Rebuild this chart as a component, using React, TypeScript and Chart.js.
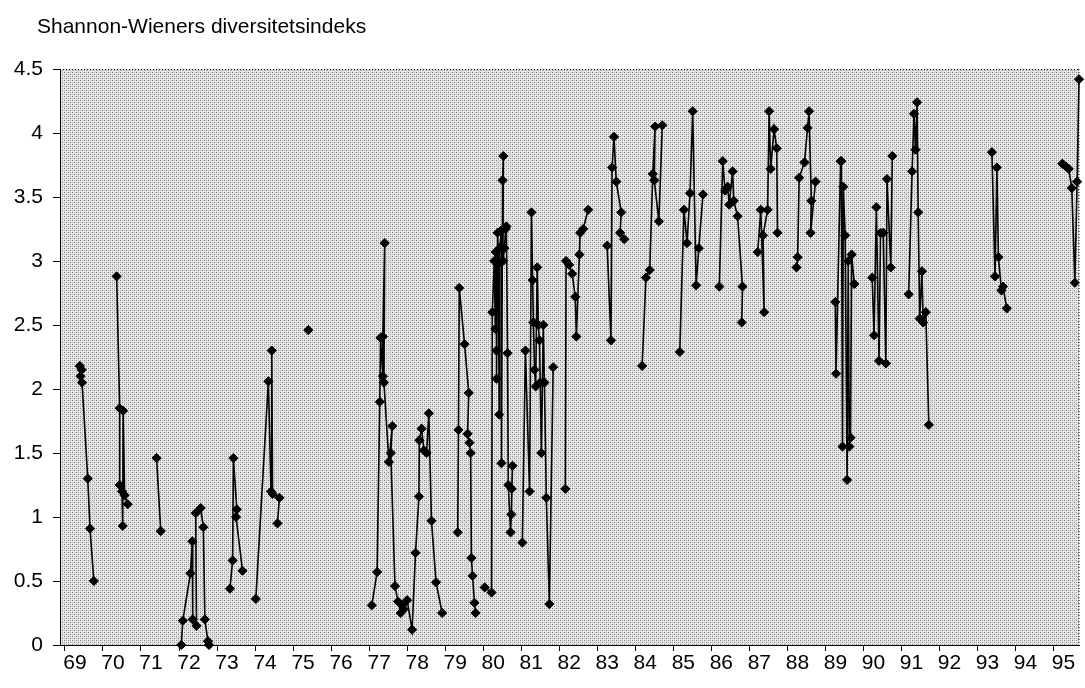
import React, { useEffect, useRef } from 'react';
import { Chart, registerables } from 'chart.js';

Chart.register(...registerables);

const TITLE = 'Shannon-Wieners diversitetsindeks';
const yearTicks = [69, 70, 71, 72, 73, 74, 75, 76, 77, 78, 79, 80, 81, 82, 83, 84, 85, 86, 87, 88, 89, 90, 91, 92, 93, 94, 95];
const valueTicks = [0, 0.5, 1, 1.5, 2, 2.5, 3, 3.5, 4, 4.5];

// [decimal year, index value] – each list is one connected run of samples
const g69 = [[69.39, 2.18], [69.44, 2.15], [69.41, 2.1], [69.45, 2.05], [69.6, 1.3], [69.66, 0.91], [69.76, 0.5]];
const g70 = [[70.36, 2.88], [70.44, 1.85], [70.44, 1.25], [70.5, 1.2], [70.52, 0.93], [70.53, 1.83], [70.57, 1.17], [70.65, 1.1]];
const g71 = [[71.41, 1.46], [71.52, 0.89]];
const g72 = [[72.06, 0.0], [72.1, 0.19], [72.3, 0.56], [72.35, 0.81], [72.36, 0.2], [72.46, 0.15], [72.44, 1.03], [72.57, 1.07], [72.64, 0.92], [72.68, 0.2], [72.76, 0.03], [72.79, 0.0]];
const g73 = [[73.34, 0.44], [73.41, 0.66], [73.43, 1.46], [73.52, 1.06], [73.5, 1.0], [73.67, 0.58]];
const g74 = [[74.02, 0.36], [74.35, 2.06], [74.42, 1.2], [74.44, 2.3], [74.46, 1.18], [74.64, 1.15], [74.59, 0.95]];
const g75 = [[75.4, 2.46]];
const g77 = [[77.07, 0.31], [77.21, 0.57], [77.28, 1.9], [77.3, 2.4], [77.36, 2.1], [77.36, 2.41], [77.41, 3.14], [77.39, 2.05], [77.52, 1.43], [77.61, 1.71], [77.57, 1.5], [77.68, 0.46], [77.76, 0.34], [77.83, 0.25], [77.87, 0.31], [77.91, 0.28], [78.0, 0.35], [78.13, 0.12], [78.22, 0.72], [78.31, 1.16], [78.32, 1.6], [78.38, 1.69], [78.44, 1.52], [78.51, 1.5], [78.57, 1.81], [78.64, 0.97], [78.76, 0.49], [78.92, 0.25]];
const g79 = [[79.33, 0.88], [79.35, 1.68], [79.37, 2.79], [79.51, 2.35], [79.62, 1.97], [79.59, 1.65], [79.64, 1.58], [79.67, 1.5], [79.69, 0.68], [79.72, 0.54], [79.77, 0.33], [79.8, 0.25]];
const g80 = [[80.04, 0.45], [80.22, 0.41], [80.24, 2.6], [80.29, 3.0], [80.32, 2.47], [80.33, 3.07], [80.35, 2.3], [80.35, 2.08], [80.38, 3.22], [80.4, 2.98], [80.42, 1.8], [80.43, 3.1], [80.48, 3.24], [80.48, 1.42], [80.51, 3.63], [80.53, 3.82], [80.52, 3.0], [80.56, 3.1], [80.59, 3.25], [80.61, 3.27], [80.64, 2.28], [80.66, 1.25], [80.72, 0.88], [80.74, 1.02], [80.77, 1.4], [80.75, 1.22]];
const g81 = [[81.03, 0.8], [81.11, 2.3], [81.22, 1.2], [81.27, 3.38], [81.3, 2.85], [81.32, 2.52], [81.35, 2.15], [81.38, 2.02], [81.42, 2.95], [81.45, 2.5], [81.48, 2.38], [81.5, 2.05], [81.53, 1.5], [81.58, 2.5], [81.61, 2.05], [81.66, 1.15], [81.74, 0.32], [81.84, 2.17]];
const g82 = [[82.16, 1.22], [82.18, 3.0], [82.26, 2.97], [82.34, 2.9], [82.42, 2.72], [82.45, 2.41], [82.53, 3.05], [82.55, 3.22], [82.63, 3.25], [82.76, 3.4]];
const g83 = [[83.26, 3.12], [83.36, 2.38], [83.39, 3.73], [83.44, 3.97], [83.5, 3.62], [83.63, 3.38], [83.6, 3.22], [83.71, 3.17]];
const g84 = [[84.18, 2.18], [84.28, 2.87], [84.38, 2.93], [84.46, 3.68], [84.52, 4.05], [84.5, 3.63], [84.62, 3.31], [84.71, 4.06]];
const g85 = [[85.17, 2.29], [85.28, 3.4], [85.36, 3.14], [85.44, 3.53], [85.51, 4.17], [85.6, 2.81], [85.67, 3.1], [85.78, 3.52]];
const g86 = [[86.21, 2.8], [86.3, 3.78], [86.36, 3.55], [86.43, 3.58], [86.47, 3.44], [86.56, 3.7], [86.59, 3.47], [86.69, 3.35], [86.82, 2.8], [86.8, 2.52]];
const g87 = [[87.22, 3.07], [87.3, 3.4], [87.39, 2.6], [87.36, 3.2], [87.48, 3.4], [87.52, 4.17], [87.56, 3.72], [87.65, 4.03], [87.72, 3.88], [87.74, 3.22]];
const g88 = [[88.24, 2.95], [88.27, 3.03], [88.31, 3.65], [88.45, 3.77], [88.53, 4.04], [88.57, 4.17], [88.63, 3.47], [88.61, 3.22], [88.74, 3.62]];
const g89 = [[89.26, 2.68], [89.28, 2.12], [89.4, 3.78], [89.42, 3.78], [89.45, 1.55], [89.47, 3.58], [89.52, 3.2], [89.57, 1.29], [89.6, 3.0], [89.63, 1.55], [89.66, 1.62], [89.69, 3.05], [89.76, 2.82]];
const g90 = [[90.23, 2.87], [90.28, 2.42], [90.34, 3.42], [90.41, 2.22], [90.45, 3.22], [90.52, 3.22], [90.59, 2.2], [90.62, 3.64], [90.72, 2.95], [90.76, 3.82]];
const g91 = [[91.19, 2.74], [91.28, 3.7], [91.33, 4.15], [91.37, 3.87], [91.41, 4.24], [91.44, 3.38], [91.48, 2.55], [91.54, 2.92], [91.57, 2.52], [91.64, 2.6], [91.72, 1.72]];
const g93 = [[93.38, 3.85], [93.46, 2.88], [93.51, 3.73], [93.55, 3.03], [93.63, 2.77], [93.67, 2.8], [93.77, 2.63]];
const g95 = [[95.23, 3.76], [95.32, 3.74], [95.4, 3.72], [95.48, 3.57], [95.56, 2.83], [95.62, 3.62], [95.67, 4.42]];

const runs = [g69, g70, g71, g72, g73, g74, g75, g77, g79, g80, g81, g82, g83, g84, g85, g86, g87, g88, g89, g90, g91, g93, g95];

const FONT = '"Liberation Sans", Arial, Helvetica, sans-serif';

export default function App() {
  const ref = useRef<HTMLCanvasElement>(null);

  useEffect(() => {
    document.body.style.margin = '0';
    const canvas = ref.current!;
    const tile = document.createElement('canvas');
    tile.width = 4;
    tile.height = 4;
    const t = tile.getContext('2d')!;
    t.fillStyle = '#e6e6e6';
    t.fillRect(0, 0, 4, 4);
    t.fillStyle = '#858585';
    t.fillRect(0, 0, 1, 1);
    t.fillRect(2, 2, 1, 1);
    t.fillStyle = '#b8b8b8';
    t.fillRect(2, 0, 1, 1);
    t.fillRect(0, 2, 1, 1);
    const pattern = canvas.getContext('2d')!.createPattern(tile, 'repeat');

    const plotBg = {
      id: 'plotBg',
      beforeDraw(chart: any) {
        const { ctx, chartArea: a } = chart;
        ctx.save();
        ctx.fillStyle = pattern as any;
        ctx.fillRect(a.left, a.top, a.right - a.left, a.bottom - a.top);
        ctx.strokeStyle = '#000';
        ctx.lineWidth = 1;
        ctx.setLineDash([1, 2]);
        ctx.beginPath();
        ctx.moveTo(a.left, a.top + 0.5);
        ctx.lineTo(a.right, a.top + 0.5);
        ctx.moveTo(a.right - 0.5, a.top);
        ctx.lineTo(a.right - 0.5, a.bottom);
        ctx.stroke();
        ctx.restore();
      },
      afterDraw(chart: any) {
        const { ctx } = chart;
        ctx.save();
        ctx.font = `21px ${FONT}`;
        ctx.fillStyle = '#000';
        ctx.textBaseline = 'alphabetic';
        ctx.textAlign = 'left';
        ctx.fillText(TITLE, 37, 33);
        ctx.restore();
      },
    };

    const datasets = runs.map((run) => ({
      data: run.map(([x, y]) => ({ x, y })),
      showLine: run.length > 1,
      borderColor: '#000',
      borderWidth: 1.6,
      pointStyle: 'rectRot',
      pointRadius: 4.6,
      pointHoverRadius: 4.6,
      pointBackgroundColor: '#000',
      pointBorderColor: '#000',
      pointBorderWidth: 1,
      clip: false,
    }));

    const chart = new Chart(canvas, {
      type: 'scatter',
      data: { datasets: datasets as any },
      plugins: [plotBg],
      options: {
        animation: false,
        responsive: false,
        events: [],
        layout: { padding: { top: 69, right: 2, left: 0, bottom: 0 } },
        plugins: { legend: { display: false }, tooltip: { enabled: false }, title: { display: false } },
        scales: {
          x: {
            type: 'linear',
            min: 68.87,
            max: 95.68,
            afterBuildTicks: (s: any) => {
              s.ticks = yearTicks.map((v) => ({ value: v }));
            },
            afterFit: (s: any) => {
              s.height = 43;
            },
            ticks: {
              autoSkip: false,
              maxRotation: 0,
              labelOffset: 10,
              padding: 0,
              color: '#000',
              font: { family: FONT, size: 21 },
              callback: (v: any) => String(v),
            },
            grid: { drawOnChartArea: false, drawTicks: true, tickLength: 6, color: '#000' },
            border: { color: '#000', width: 1 },
          },
          y: {
            type: 'linear',
            min: 0,
            max: 4.5,
            afterBuildTicks: (s: any) => {
              s.ticks = valueTicks.map((v) => ({ value: v }));
            },
            afterFit: (s: any) => {
              s.width = 60;
            },
            ticks: {
              padding: 10,
              color: '#000',
              font: { family: FONT, size: 21 },
              callback: (v: any) => String(v),
            },
            grid: { drawOnChartArea: false, drawTicks: true, tickLength: 7, color: '#000' },
            border: { color: '#000', width: 1 },
          },
        },
      },
    });
    return () => chart.destroy();
  }, []);

  return <canvas ref={ref} width={1085} height={688} style={{ display: 'block', width: 1085, height: 688 }} />;
}
